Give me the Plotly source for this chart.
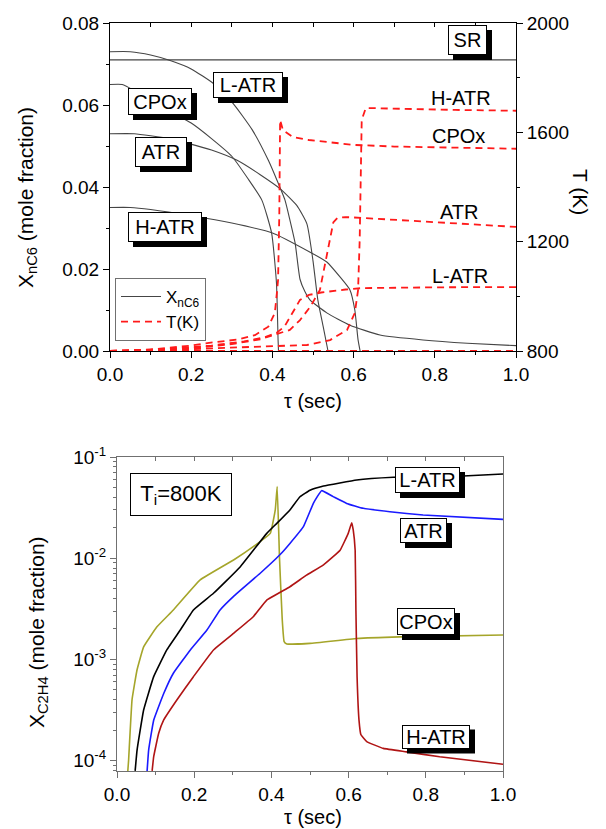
import plotly.graph_objects as go

W, H = 606, 829
FONT = "Liberation Sans, Arial, sans-serif"

# ---------------- Top panel data: X_nC6 (mole fraction) ----------------
tau_sr = [0.0, 1.0]
x_sr = [0.071, 0.071]

tau_latr = [0.0, 0.05, 0.1, 0.15, 0.2, 0.254, 0.303, 0.35, 0.39, 0.411, 0.431, 0.443, 0.456,
            0.468, 0.48, 0.493, 0.534, 0.591, 0.665, 0.771, 0.88, 1.0]
x_latr = [0.073, 0.073, 0.0722, 0.0708, 0.0688, 0.0653, 0.0604, 0.054, 0.0465, 0.0417, 0.0368,
          0.032, 0.0263, 0.0175, 0.0145, 0.0124, 0.0093, 0.0063, 0.0039, 0.0027, 0.0019, 0.0013]

tau_cpox = [0.0, 0.03, 0.06, 0.1, 0.15, 0.2, 0.25, 0.3, 0.34, 0.374, 0.398, 0.41, 0.414, 0.415]
x_cpox = [0.065, 0.065, 0.0635, 0.061, 0.0583, 0.0556, 0.0518, 0.0475, 0.042, 0.0368, 0.0288,
          0.0166, 0.0027, 0.0]

tau_atr = [0.0, 0.06, 0.1, 0.15, 0.19, 0.25, 0.313, 0.37, 0.42, 0.46, 0.485, 0.5, 0.512, 0.525, 0.537]
x_atr = [0.053, 0.053, 0.0525, 0.0517, 0.0507, 0.049, 0.0465, 0.043, 0.0395, 0.0355, 0.031,
         0.022, 0.0124, 0.006, 0.0]

tau_hatr = [0.0, 0.05, 0.1, 0.2, 0.3, 0.4, 0.493, 0.534, 0.567, 0.591, 0.603, 0.611, 0.616]
x_hatr = [0.035, 0.035, 0.0345, 0.033, 0.0312, 0.0288, 0.0241, 0.0217, 0.018, 0.0149, 0.010,
          0.0027, 0.0]

# ---------------- Top panel data: T (K) ----------------
tT_sr = [0.0, 1.0]
T_sr = [800, 800]

tT_cpox = [0.0, 0.1, 0.2, 0.234, 0.315, 0.357, 0.39, 0.406, 0.411, 0.414, 0.417, 0.419, 0.426,
           0.45, 0.49, 0.6, 0.7, 0.85, 1.0]
T_cpox = [800, 805, 820, 828, 842, 858, 889, 939, 1012, 1060, 1300, 1645, 1608, 1583, 1572,
          1554, 1548, 1544, 1540]

tT_hatr = [0.0, 0.2, 0.35, 0.485, 0.542, 0.584, 0.603, 0.611, 0.615, 0.617, 0.62, 0.63, 0.7,
           0.85, 1.0]
T_hatr = [800, 807, 815, 822, 840, 877, 939, 1023, 1206, 1426, 1645, 1689, 1686, 1682, 1679]

tT_atr = [0.0, 0.2, 0.3, 0.37, 0.41, 0.443, 0.468, 0.493, 0.517, 0.525, 0.534, 0.542, 0.55,
          0.56, 0.58, 0.62, 0.7, 0.85, 1.0]
T_atr = [800, 810, 825, 843, 862, 877, 913, 961, 1023, 1085, 1159, 1217, 1270, 1287, 1290,
         1287, 1280, 1265, 1254]

tT_latr = [0.0, 0.15, 0.25, 0.33, 0.38, 0.41, 0.43, 0.443, 0.468, 0.49, 0.52, 0.58, 0.62, 0.8, 1.0]
T_latr = [800, 808, 820, 835, 850, 866, 890, 924, 987, 1005, 1014, 1025, 1030, 1033, 1034]

# ---------------- Bottom panel data: X_C2H4 ----------------
tb_cpox = [0.028, 0.030, 0.039, 0.052, 0.069, 0.1035, 0.146, 0.2155, 0.302, 0.353, 0.397, 0.41,
           0.415, 0.421, 0.428, 0.433, 0.44, 0.5, 0.621, 0.733, 1.0]
c_cpox = [7.9e-5, 1.0e-4, 4.0e-4, 7.9e-4, 1.33e-3, 2.1e-3, 3.08e-3, 6.1e-3, 9.6e-3, 1.3e-2,
          1.76e-2, 3.0e-2, 5.1e-2, 1.0e-2, 2.5e-3, 1.5e-3, 1.42e-3, 1.44e-3, 1.61e-3, 1.67e-3, 1.74e-3]

tb_latr = [0.047, 0.052, 0.069, 0.095, 0.129, 0.164, 0.198, 0.25, 0.319, 0.388, 0.414, 0.448,
           0.474, 0.5, 0.535, 0.621, 0.716, 0.8, 0.897, 1.0]
c_latr = [7.9e-5, 1.27e-4, 3.16e-4, 6.75e-4, 1.24e-3, 1.95e-3, 3.08e-3, 4.5e-3, 8.2e-3, 1.76e-2,
          2.21e-2, 3.0e-2, 4.05e-2, 4.7e-2, 5.16e-2, 5.93e-2, 6.3e-2, 6.4e-2, 6.5e-2, 6.8e-2]

tb_atr = [0.078, 0.082, 0.095, 0.121, 0.146, 0.19, 0.233, 0.267, 0.302, 0.371, 0.422, 0.448,
          0.483, 0.509, 0.53, 0.56, 0.595, 0.638, 0.707, 0.793, 1.0]
c_atr = [7.9e-5, 1.27e-4, 2.5e-4, 4.6e-4, 7.3e-4, 1.24e-3, 1.95e-3, 3.08e-3, 4.2e-3, 7.1e-3,
         1.08e-2, 1.4e-2, 2.05e-2, 3.5e-2, 4.65e-2, 4.06e-2, 3.48e-2, 3.11e-2, 2.88e-2, 2.67e-2,
         2.42e-2]

tb_hatr = [0.091, 0.095, 0.108, 0.121, 0.155, 0.198, 0.25, 0.302, 0.353, 0.388, 0.448, 0.491,
           0.535, 0.578, 0.599, 0.608, 0.612, 0.617, 0.619, 0.622, 0.627, 0.632, 0.647, 0.69,
           0.75, 0.836, 1.0]
c_hatr = [7.9e-5, 1.09e-4, 1.86e-4, 2.52e-4, 3.97e-4, 6.75e-4, 1.24e-3, 1.81e-3, 2.64e-3,
          3.86e-3, 5.22e-3, 6.8e-3, 8.6e-3, 1.2e-2, 1.76e-2, 2.24e-2, 1.9e-2, 1.2e-2, 3.0e-3,
          6.7e-4, 2.5e-4, 1.8e-4, 1.54e-4, 1.32e-4, 1.22e-4, 1.09e-4, 9.2e-5]

# ---------------- tick labels ----------------
x_ticks = [0.0, 0.2, 0.4, 0.6, 0.8, 1.0]
x_ticktext = ["0.0", "0.2", "0.4", "0.6", "0.8", "1.0"]
y_ticks = [0.0, 0.02, 0.04, 0.06, 0.08]
y_ticktext = ["0.00", "0.02", "0.04", "0.06", "0.08"]
T_ticks = [800, 1200, 1600, 2000]
log_ticks = [1e-4, 1e-3, 1e-2, 1e-1]
log_ticktext = ["10<sup>-4</sup>", "10<sup>-3</sup>", "10<sup>-2</sup>", "10<sup>-1</sup>"]


def px(x):
    return x / W


def py(y):
    return 1 - y / H


XC = "#454545"
RED = "#ff1a1a"
DASH = "7px,5px"

fig = go.Figure()

for i, (t, v) in enumerate([(tau_sr, x_sr), (tau_latr, x_latr), (tau_cpox, x_cpox),
                            (tau_atr, x_atr), (tau_hatr, x_hatr)]):
    fig.add_trace(go.Scatter(x=t, y=v, mode="lines", line=dict(color=XC, width=1.1),
                             name="X<sub>nC6</sub>", showlegend=(i == 0),
                             xaxis="x", yaxis="y", line_shape="spline", line_smoothing=0.5))
for i, (t, v) in enumerate([(tT_sr, T_sr), (tT_cpox, T_cpox), (tT_hatr, T_hatr),
                            (tT_atr, T_atr), (tT_latr, T_latr)]):
    fig.add_trace(go.Scatter(x=t, y=v, mode="lines", line=dict(color=RED, width=1.8, dash=DASH),
                             name="T(K)", showlegend=(i == 0), xaxis="x", yaxis="y2"))

for t, v, c in [(tb_cpox, c_cpox, "#a5a52a"), (tb_latr, c_latr, "#000000"),
                (tb_atr, c_atr, "#1a1aff"), (tb_hatr, c_hatr, "#b01414")]:
    fig.add_trace(go.Scatter(x=t, y=v, mode="lines", line=dict(color=c, width=1.6),
                             showlegend=False, xaxis="x2", yaxis="y3",
                             line_shape="spline", line_smoothing=0.3))

fig.add_trace(go.Scatter(x=[None], y=[None], xaxis="x3", yaxis="y", showlegend=False, hoverinfo="skip"))
fig.add_trace(go.Scatter(x=[None], y=[None], xaxis="x4", yaxis="y3", showlegend=False, hoverinfo="skip"))

tf = dict(family=FONT, size=19, color="black")
GRAY = "#707070"

top_dom_y = [py(351), py(23)]
bot_dom_y = [py(771), py(457)]

fig.update_layout(
    width=W, height=H, margin=dict(l=0, r=0, t=0, b=0, autoexpand=False),
    paper_bgcolor="white", plot_bgcolor="white",
    font=dict(family=FONT, size=19, color="black"),
    xaxis=dict(domain=[px(110), px(516)], anchor="y", range=[0, 1], tickvals=x_ticks,
               ticktext=x_ticktext, ticks="outside", ticklen=6, tickcolor="black",
               showline=True, linecolor="black", linewidth=1, mirror=True, automargin=False,
               showgrid=False, zeroline=False, tickfont=tf,
               minor=dict(tickvals=[0.1, 0.3, 0.5, 0.7, 0.9], ticks="outside", ticklen=3,
                          tickcolor="black")),
    xaxis3=dict(overlaying="x", side="top", anchor="y", range=[0, 1], automargin=False,
                tickvals=[0.1, 0.2, 0.3, 0.4, 0.5, 0.6, 0.7, 0.8, 0.9], ticks="inside",
                ticklen=4, tickcolor="black", showticklabels=False, showline=False,
                showgrid=False, zeroline=False),
    yaxis=dict(domain=top_dom_y, anchor="x", range=[0, 0.08], tickvals=y_ticks,
               ticktext=y_ticktext, ticks="outside", ticklen=6, tickcolor="black",
               showline=True, linecolor="black", linewidth=1, showgrid=False, automargin=False,
               zeroline=False, tickfont=tf,
               minor=dict(tickvals=[0.01, 0.03, 0.05, 0.07], ticks="outside", ticklen=3,
                          tickcolor="black")),
    yaxis2=dict(overlaying="y", side="right", anchor="x", range=[800, 2000], tickvals=T_ticks,
                ticks="outside", ticklen=6, tickcolor="black", showline=True, automargin=False,
                linecolor="black", linewidth=1, showgrid=False, zeroline=False, tickfont=tf,
                minor=dict(tickvals=[1000, 1400, 1800], ticks="outside", ticklen=3,
                           tickcolor="black")),
    xaxis2=dict(domain=[px(117), px(503)], anchor="y3", range=[0, 1], tickvals=x_ticks,
                ticktext=x_ticktext, ticks="outside", ticklen=6, tickcolor=GRAY,
                showline=True, linecolor=GRAY, linewidth=1, mirror=True, showgrid=False,
                zeroline=False, tickfont=tf, automargin=False,
                minor=dict(tickvals=[0.1, 0.3, 0.5, 0.7, 0.9], ticks="outside", ticklen=3,
                           tickcolor=GRAY)),
    xaxis4=dict(overlaying="x2", side="top", anchor="y3", range=[0, 1], automargin=False,
                tickvals=[0.1, 0.2, 0.3, 0.4, 0.5, 0.6, 0.7, 0.8, 0.9], ticks="inside",
                ticklen=4, tickcolor=GRAY, showticklabels=False, showline=False,
                showgrid=False, zeroline=False),
    yaxis3=dict(domain=bot_dom_y, anchor="x2", type="log", range=[-4.103, -1],
                tickvals=log_ticks, ticktext=log_ticktext, ticks="outside", ticklen=6,
                tickcolor=GRAY, showline=True, linecolor=GRAY, linewidth=1, mirror=True,
                showgrid=False, zeroline=False, tickfont=tf, automargin=False,
                minor=dict(tickvals=[m * 10 ** e for e in (-5, -4, -3, -2) for m in range(2, 10)
                                     if 7.8e-5 < m * 10 ** e < 0.1],
                           ticks="outside", ticklen=3, tickcolor=GRAY)),
    legend=dict(x=px(115), y=py(278), xanchor="left", yanchor="top",
                bordercolor="#707070", borderwidth=1, bgcolor="white",
                font=dict(family=FONT, size=17), tracegroupgap=0, itemwidth=40),
    showlegend=True,
)

ann = []
shapes = []


def boxed(cx, cy, w, h, text, shadow=True, size=20):
    if shadow:
        shapes.append(dict(type="rect", xref="paper", yref="paper",
                           x0=px(cx - w / 2 + 5), x1=px(cx + w / 2 + 5),
                           y0=py(cy + h / 2 + 5), y1=py(cy - h / 2 + 5),
                           fillcolor="black", line=dict(width=0), layer="above"))
    ann.append(dict(x=px(cx), y=py(cy), xref="paper", yref="paper", text=text,
                    showarrow=False, xanchor="center", yanchor="middle",
                    width=w - 4, height=h - 4, borderpad=1, borderwidth=1,
                    bordercolor="black", bgcolor="white",
                    font=dict(family=FONT, size=size, color="black")))


def plain(cx, cy, text, size=20, angle=0):
    ann.append(dict(x=px(cx), y=py(cy), xref="paper", yref="paper", text=text,
                    showarrow=False, xanchor="center", yanchor="middle", textangle=angle,
                    font=dict(family=FONT, size=size, color="black")))


boxed(467.5, 40, 39, 30, "SR")
boxed(248, 85, 70, 26, "L-ATR")
boxed(160, 101.5, 64, 27, "CPOx")
boxed(161, 152, 52, 30, "ATR")
boxed(165, 227, 74, 30, "H-ATR")
plain(461, 98, "H-ATR")
plain(458, 136, "CPOx")
plain(459, 212, "ATR")
plain(460, 276, "L-ATR")

boxed(427.5, 480, 65, 26, "L-ATR")
boxed(423.5, 530.5, 47, 25, "ATR")
boxed(426, 621.5, 58, 27, "CPOx")
boxed(436, 736.5, 68, 24, "H-ATR")
boxed(181, 494.5, 102, 43, "T<sub>i</sub>=800K", shadow=False, size=22)

plain(313, 401, "τ (sec)", size=20)
plain(313, 817, "τ (sec)", size=20)
plain(27, 198, "X<sub>nC6</sub> (mole fraction)", size=21, angle=-90)
plain(38, 632, "X<sub>C2H4</sub> (mole fraction)", size=21, angle=-90)
plain(580, 192, "T (K)", size=21, angle=90)

fig.update_layout(annotations=ann, shapes=shapes)

fig.write_html("out.html")
